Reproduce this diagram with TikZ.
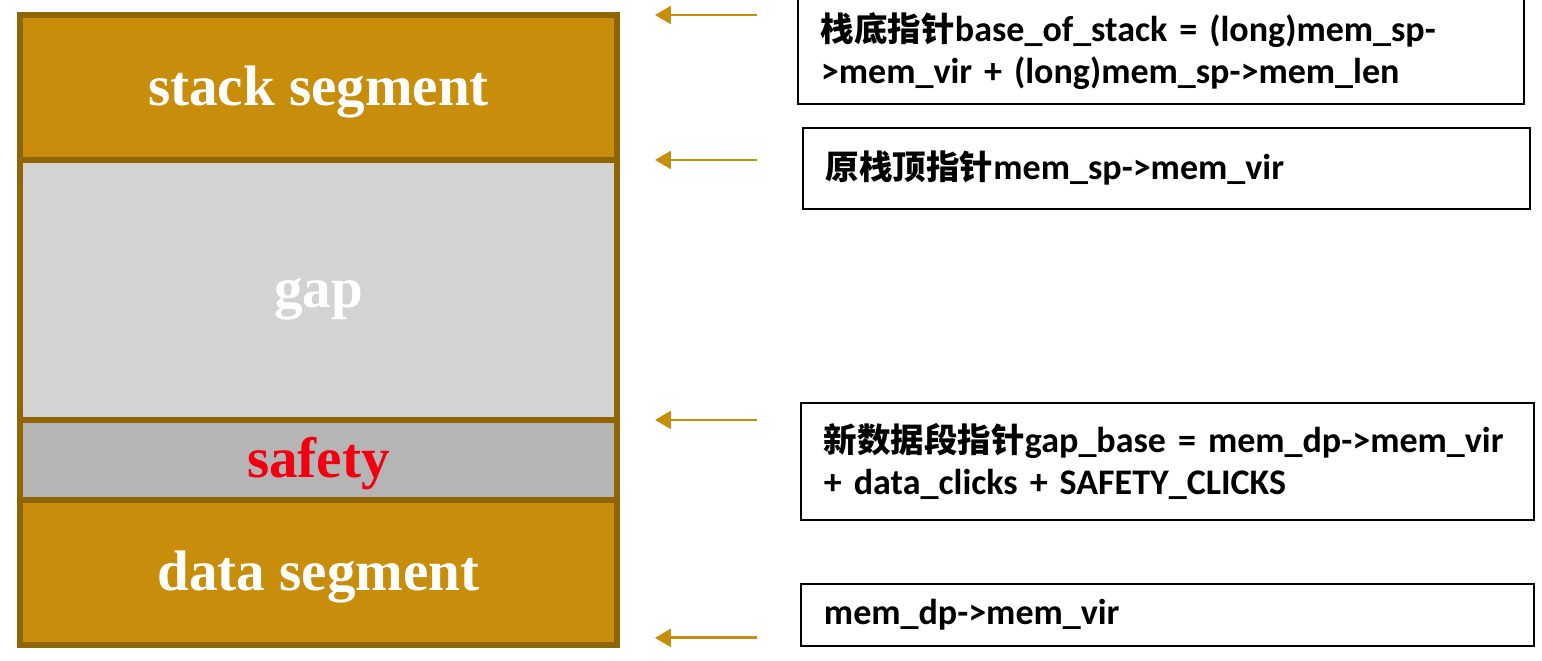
\documentclass[tikz,border=0pt]{standalone}
\usepackage{fontspec}
\setmainfont{Liberation Serif}
\newfontfamily\cjk[Scale=0.93]{Noto Sans CJK SC}
\newfontfamily\lbl{Carlito}
\usetikzlibrary{arrows.meta, positioning}
\definecolor{GD}{RGB}{201,141,12}
\definecolor{GB}{RGB}{143,101,6}
\definecolor{LGr}{RGB}{211,211,211}
\definecolor{MGr}{RGB}{181,181,181}
\definecolor{RD}{RGB}{240,0,16}
\newcommand{\zh}[1]{{\cjk #1}}

\begin{document}
\begin{tikzpicture}[x=0.02cm, y=-0.02cm,
  seg/.style={draw=GB, line width=3.2pt, fill=#1, minimum width=11.94cm,
              outer sep=0pt, inner sep=0pt, text=white,
              text height=27.6pt, text depth=7.2pt,
              font=\fontsize{32.5}{39}\selectfont\bfseries},
  note/.style={draw=black, line width=1.1pt, anchor=north west,
               text width=#1, align=left, inner xsep=0.46cm,
               font=\lbl\bfseries\fontsize{20.5}{23.5}\selectfont},
  ptr/.style={-{Triangle[length=9pt, width=10pt]}, line width=1.6pt, draw=GD}
]
\useasboundingbox (0,0) rectangle (1542,660);

% Memory layout (top to bottom)
\node[seg=GD,  minimum height=2.9cm] (stk) at (318.5,87.5) {stack segment};
\node[seg=LGr, minimum height=5.2cm, below=0pt of stk] (gap) {gap};
\node[seg=MGr, minimum height=1.6cm, below=0pt of gap, text=RD] (saf) {safety};
\node[seg=GD,  minimum height=2.9cm, below=0pt of saf] (dat) {data segment};

% Pointer notes
\node[note=13.6cm, minimum height=2.12cm] (bos) at (797,-3)
  {\zh{栈底指针}base\_of\_stack = (long)mem\_sp-\\>mem\_vir + (long)mem\_sp->mem\_len};
\node[note=13.62cm, minimum height=1.62cm] (osp) at (802,127)
  {\zh{原栈顶指针}mem\_sp->mem\_vir};
\node[note=13.74cm, minimum height=2.34cm] (gb) at (800,402)
  {\zh{新数据段指针}gap\_base = mem\_dp->mem\_vir\\+ data\_clicks + SAFETY\_CLICKS};
\node[note=13.74cm, minimum height=1.24cm] (mdp) at (800,583)
  {mem\_dp->mem\_vir};

\draw[ptr] ([xshift=2.8cm]stk.north east)--([xshift=0.76cm]stk.north east);
\draw[ptr] ([xshift=2.8cm]stk.south east)--([xshift=0.76cm]stk.south east);
\draw[ptr] ([xshift=2.8cm]gap.south east)--([xshift=0.76cm]gap.south east);
\draw[ptr] ([xshift=2.8cm,yshift=0.14cm]dat.south east)--([xshift=0.76cm,yshift=0.14cm]dat.south east);
\end{tikzpicture}
\end{document}
